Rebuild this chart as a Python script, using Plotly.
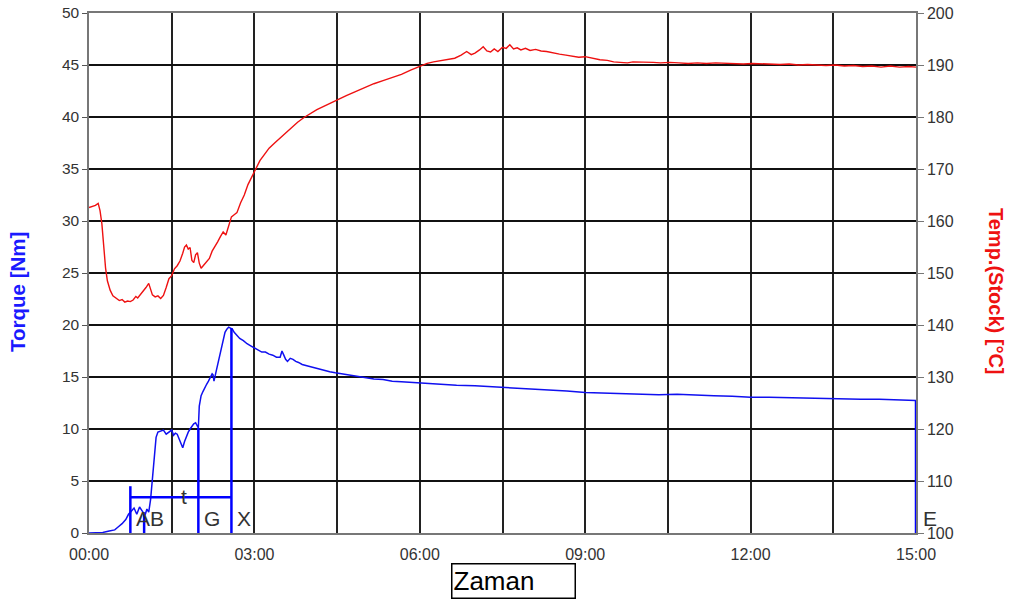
import plotly.graph_objects as go

# ---------------- data (time in seconds) ----------------
torque_time = [0, 8, 15, 22, 28, 32, 36, 40, 43, 46, 49, 52, 55, 58, 61, 63, 65, 67, 69, 71, 73, 75, 78, 81, 84, 87,
               90, 92, 94, 96, 98, 100, 102, 104, 106, 108, 110, 112, 114, 116, 118, 119, 120, 122, 124, 126, 128,
               130, 132, 134, 135, 136, 138, 140, 142, 144, 146, 148, 150, 152, 154, 156, 158, 161, 164, 168, 172,
               176, 180, 184, 188, 192, 196, 200, 204, 208, 210, 212, 214, 216, 219, 222, 225, 228, 232, 236, 240,
               245, 250, 256, 262, 268, 275, 282, 290, 300, 310, 320, 330, 340, 355, 370, 385, 400, 420, 440, 460,
               480, 500, 520, 540, 560, 580, 600, 620, 640, 660, 680, 700, 720, 740, 760, 780, 800, 820, 840, 860,
               880, 895, 900]
torque_nm = [0, 0, 0.05, 0.2, 0.3, 0.6, 0.9, 1.3, 1.8, 2.1, 2.4, 1.8, 2.5, 2.1, 1.7, 2.3, 2.0, 3.2, 5.5, 7.8, 9.2,
             9.7, 9.8, 9.9, 9.5, 9.7, 9.9, 9.4, 9.6, 9.5, 9.0, 8.6, 8.2, 8.8, 9.3, 9.7, 10.0, 10.3, 10.5, 10.6, 10.3,
             10.1, 12.2, 13.2, 13.6, 14.0, 14.3, 14.6, 14.9, 15.3, 15.2, 14.6, 15.4, 16.2, 17.0, 17.8, 18.6, 19.3,
             19.6, 19.8, 19.7, 19.6, 19.3, 19.0, 18.7, 18.5, 18.2, 18.0, 17.8, 17.6, 17.4, 17.4, 17.2, 17.1, 16.9,
             16.9, 17.5, 17.1, 16.7, 16.5, 16.8, 16.7, 16.5, 16.4, 16.2, 16.1, 16.0, 15.9, 15.8, 15.6, 15.5, 15.4,
             15.3, 15.2, 15.05, 14.95, 14.8, 14.75, 14.6, 14.55, 14.45, 14.35, 14.3, 14.2, 14.15, 14.05, 13.95,
             13.85, 13.8, 13.65, 13.5, 13.45, 13.4, 13.4, 13.3, 13.35, 13.25, 13.2, 13.15, 13.05, 13.05, 13.0,
             12.95, 12.95, 12.9, 12.85, 12.85, 12.8, 12.75, 12.75, 12.7]

temp_time = [0, 4, 7, 10, 12, 14, 16, 18, 20, 23, 26, 30, 33, 36, 39, 42, 45, 48, 51, 53, 56, 59, 62, 65, 67, 69,
             72, 75, 78, 81, 84, 87, 90, 93, 96, 99, 102, 104, 106, 108, 110, 112, 114, 116, 118, 120, 122, 125,
             128, 131, 134, 137, 140, 143, 146, 149, 152, 155, 158, 161, 165, 169, 173, 177, 181, 186, 191, 196,
             202, 208, 214, 220, 227, 234, 241, 248, 256, 264, 272, 280, 290, 300, 310, 320, 330, 340, 350, 360,
             368, 375, 382, 390, 398, 405, 411, 416, 420, 425, 429, 433, 437, 441, 445, 450, 454, 458, 462, 466,
             470, 475, 480, 486, 492, 498, 505, 512, 519, 526, 533, 540, 548, 556, 564, 571, 578, 586, 592, 598,
             606, 614, 622, 632, 642, 652, 662, 672, 682, 692, 702, 712, 722, 732, 742, 752, 762, 772, 782, 792,
             802, 812, 822, 832, 842, 852, 862, 872, 882, 892, 900]
temp_c = [162.6, 162.8, 163.0, 163.4, 162.0, 159.5, 155.0, 151.0, 148.5, 146.7, 145.6, 145.1, 144.7, 144.9, 144.4,
          144.6, 144.5, 144.8, 145.5, 145.2, 145.8, 146.6, 147.2, 148.0, 147.0, 145.8, 145.4, 145.6, 145.1, 145.7,
          147.2, 148.9, 149.5, 150.8, 151.4, 152.3, 153.8, 155.0, 155.4, 154.6, 154.9, 152.4, 152.0, 153.5, 153.9,
          151.9, 150.9, 151.6, 152.3, 152.8, 154.2, 155.0, 156.0, 157.0, 157.9, 157.3, 159.2, 160.8, 161.2, 161.6,
          163.5, 165.0, 167.0, 168.5, 170.0, 171.6, 172.8, 174.0, 175.0, 176.0, 177.0, 178.0, 179.0, 179.9, 180.7,
          181.4, 182.1, 182.8, 183.4, 184.1, 184.9, 185.7, 186.4, 187.0, 187.6, 188.2, 189.0, 189.8, 190.3, 190.6,
          190.8, 191.1, 191.3, 191.9, 192.6, 192.0, 192.3, 192.9, 193.5, 192.7, 192.5, 193.1, 192.6, 193.4, 193.2,
          193.9, 193.1, 193.3, 192.9, 193.2, 192.8, 193.0, 192.7, 192.6, 192.3, 192.1, 191.9, 191.7, 191.5, 191.6,
          191.3, 191.0, 190.9, 190.6, 190.5, 190.4, 190.6, 190.6, 190.5, 190.5, 190.4, 190.5, 190.4, 190.3, 190.4,
          190.3, 190.4, 190.3, 190.3, 190.2, 190.3, 190.2, 190.2, 190.1, 190.2, 190.0, 190.1, 190.0, 189.9, 190.0,
          189.8, 189.9, 189.7, 189.8, 189.6, 189.8, 189.6, 189.7, 189.6]

# event markers: label, time (s), height of vertical line (Nm)
marker_labels = ["A", "B", "G", "X", "E"]
marker_time = [45, 60, 119, 155, 900]
marker_top = [4.5, 2.0, 10.1, 19.7, 12.7]
t_span = [45, 155]
t_level = 3.43

x_tickvals = [0, 90, 180, 270, 360, 450, 540, 630, 720, 810, 900]
x_ticktext = ["00:00", "", "03:00", "", "06:00", "", "09:00", "", "12:00", "", "15:00"]
y_left_ticks = [0, 5, 10, 15, 20, 25, 30, 35, 40, 45, 50]
y_right_ticks = [100, 110, 120, 130, 140, 150, 160, 170, 180, 190, 200]

BLUE = "#1010f0"
RED = "#ee1111"
FONT = "Liberation Sans, Arial, sans-serif"

fig = go.Figure()

fig.add_trace(go.Scatter(x=temp_time, y=temp_c, mode="lines", yaxis="y2",
                         line=dict(color=RED, width=1.4), hoverinfo="skip"))
fig.add_trace(go.Scatter(x=torque_time, y=torque_nm, mode="lines",
                         line=dict(color=BLUE, width=1.5), hoverinfo="skip"))

# vertical marker lines
for tm, top in zip(marker_time, marker_top):
    fig.add_trace(go.Scatter(x=[tm, tm], y=[0, top], mode="lines",
                             line=dict(color="#0000ff", width=2.5), hoverinfo="skip", cliponaxis=False))
# horizontal "t" span
fig.add_trace(go.Scatter(x=t_span, y=[t_level, t_level], mode="lines",
                         line=dict(color="#0000ff", width=2.5), hoverinfo="skip"))

annotations = []
for lab, tm in zip(marker_labels, marker_time):
    annotations.append(dict(x=tm, y=1.35, xref="x", yref="y", text=lab, showarrow=False,
                            xanchor="left", yanchor="middle", xshift=4 if lab != "E" else 5,
                            font=dict(size=21, color="#333333", family=FONT)))
annotations.append(dict(x=(t_span[0] + t_span[1]) / 2, y=t_level, xref="x", yref="y", text="t",
                        showarrow=False, xanchor="center", yanchor="middle", yshift=1, xshift=3,
                        font=dict(size=21, color="#333333", family=FONT)))
annotations.append(dict(x=-0.0859, y=0.4635, xref="paper", yref="paper", text="<b>Torque [Nm]</b>",
                        textangle=-90, showarrow=False, xanchor="center", yanchor="middle",
                        font=dict(size=20.5, color="#1a1aff", family=FONT)))
annotations.append(dict(x=1.0967, y=0.4635, xref="paper", yref="paper", text="<b>Temp.(Stock) [°C]</b>",
                        textangle=90, showarrow=False, xanchor="center", yanchor="middle",
                        font=dict(size=20, color="#ee1111", family=FONT)))
annotations.append(dict(x=0.5139, y=-0.0923, xref="paper", yref="paper", text="Zaman",
                        showarrow=False, xanchor="center", yanchor="middle", align="left",
                        width=120, height=31, borderpad=1, bordercolor="black", borderwidth=1.5,
                        font=dict(size=26, color="black", family=FONT)))

fig.update_layout(
    width=1012, height=601,
    margin=dict(l=89, r=96, t=13, b=68, autoexpand=False),
    plot_bgcolor="white", paper_bgcolor="white",
    showlegend=False,
    font=dict(family=FONT, size=15, color="#333333"),
    annotations=annotations,
    xaxis=dict(range=[0, 900], tickvals=x_tickvals, ticktext=x_ticktext, automargin=False,
               showgrid=True, gridcolor="#222222", gridwidth=1.5,
               showline=True, linecolor="#777777", linewidth=1.5, mirror=True,
               ticks="outside", ticklen=6, tickcolor="white", zeroline=False,
               tickfont=dict(size=16, color="#333333")),
    yaxis=dict(range=[0, 50], tickvals=y_left_ticks, automargin=False,
               showgrid=True, gridcolor="#111111", gridwidth=1.8,
               showline=True, linecolor="#777777", linewidth=1.5, mirror=True,
               ticks="outside", ticklen=5, tickcolor="#555555", zeroline=False,
               tickfont=dict(size=15.5, color="#333333")),
    yaxis2=dict(range=[100, 200], tickvals=y_right_ticks, overlaying="y", side="right", automargin=False,
                showgrid=False, showline=True, linecolor="#777777", linewidth=1.5,
                ticks="outside", ticklen=6, tickcolor="#777777", zeroline=False,
                tickfont=dict(size=16, color="#333333")),
)

fig.write_html("out.html")
